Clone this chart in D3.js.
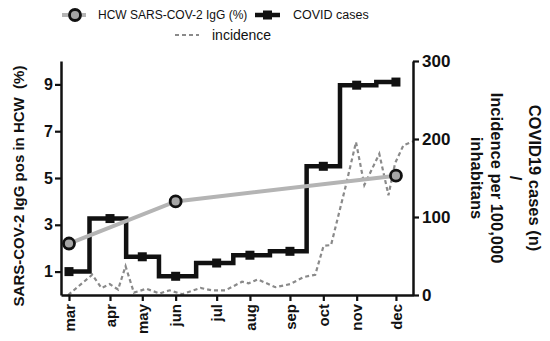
<!DOCTYPE html>
<html>
<head>
<meta charset="utf-8">
<script src="https://cdn.jsdelivr.net/npm/d3@7"></script>
<style>
  html, body { margin: 0; padding: 0; background: #fff; }
  svg { display: block; font-family: "Liberation Sans", Arial, sans-serif; }
</style>
</head>
<body>
<svg id="chart" width="550" height="341"></svg>
<script>
// ---- data ----
const months = ["mar", "apr", "may", "jun", "jul", "aug", "sep", "oct", "nov", "dec"];
// month tick positions along the x axis (in weeks since early March)
const monthPos = [0, 4.93, 8.81, 12.82, 17.75, 21.75, 26.56, 30.57, 34.58, 39.3];
// COVID cases per month (right axis)
const covidCases = [30, 98, 49, 24, 41, 51, 56, 165, 269, 273];
// HCW SARS-COV-2 IgG (%) (left axis)
const hcwMonths = ["mar", "jun", "dec"];
const hcwIgG = [2.2, 4.0, 5.1];
// incidence per 100,000 inhabitants (right axis), weekly
const incWeek = [-0.1, 2.8, 3.9, 4.9, 5.9, 6.8, 7.8, 9.3, 10.9, 12.1, 13.6, 15.8, 17.2, 18.8, 20.8, 21.6, 22.7, 24.8, 26.6, 28.2, 29.6, 30.6, 31.5, 33.2, 34.5, 35.5, 37.3, 38.4, 39.2, 40.2, 41.4];
const incValue = [0, 26, 9, 14, 7, 37, 3, 8, 2, 6, 1, 9, 6, 6, 17, 15, 20, 10, 14, 23, 26, 63, 64, 137, 196, 141, 181, 128, 169, 192, 197];
const leftTicks = [1, 3, 5, 7, 9];
const rightTicks = [0, 100, 200, 300];

// ---- layout ----
const svg = d3.select("#chart");
const x = d3.scaleLinear().domain([-0.96, 41.35]).range([61, 413]);
const yL = d3.scaleLinear().domain([0, 10]).range([295, 61]);
const yR = d3.scaleLinear().domain([0, 300]).range([295, 61]);

// incidence dashed line
svg.append("path")
  .datum(incWeek.map((w, i) => [w, incValue[i]]))
  .attr("fill", "none").attr("stroke", "#8a8a8a").attr("stroke-width", 2.2)
  .attr("stroke-dasharray", "4,3")
  .attr("d", d3.line().x(d => x(d[0])).y(d => yR(d[1])));

// COVID cases step line
const caseData = months.map((m, i) => [monthPos[i], covidCases[i]]);
svg.append("path")
  .datum(caseData)
  .attr("fill", "none").attr("stroke", "#111").attr("stroke-width", 4.5)
  .attr("stroke-linejoin", "miter").attr("stroke-linecap", "square")
  .attr("d", d3.line().curve(d3.curveStep).x(d => x(d[0])).y(d => yR(d[1])));
svg.selectAll("rect.case").data(caseData).enter().append("rect")
  .attr("class", "case")
  .attr("x", d => x(d[0]) - 4.5).attr("y", d => yR(d[1]) - 4.5)
  .attr("width", 9).attr("height", 9).attr("fill", "#111");

// HCW line
const hcwData = hcwMonths.map((m, i) => [monthPos[months.indexOf(m)], hcwIgG[i]]);
svg.append("path")
  .datum(hcwData)
  .attr("fill", "none").attr("stroke", "#b4b4b4").attr("stroke-width", 4)
  .attr("d", d3.line().x(d => x(d[0])).y(d => yL(d[1])));
svg.selectAll("circle.hcw").data(hcwData).enter().append("circle")
  .attr("class", "hcw")
  .attr("cx", d => x(d[0])).attr("cy", d => yL(d[1])).attr("r", 5.5)
  .attr("fill", "#a6a6a6").attr("stroke", "#111").attr("stroke-width", 2.8);

// ---- axes ----
const axL = svg.append("g").attr("transform", "translate(61,0)")
  .call(d3.axisLeft(yL).tickValues(leftTicks).tickSize(6).tickPadding(2).tickSizeOuter(0));
const axR = svg.append("g").attr("transform", "translate(413,0)")
  .call(d3.axisRight(yR).tickValues(rightTicks).tickSize(6).tickPadding(3).tickSizeOuter(0));
const axB = svg.append("g").attr("transform", "translate(0,295)")
  .call(d3.axisBottom(x).tickValues(monthPos).tickFormat((d, i) => months[i]).tickSize(6).tickSizeOuter(0));

[axL, axR, axB].forEach(ax => {
  ax.select(".domain").attr("stroke", "#111").attr("stroke-width", 2.5);
  ax.selectAll(".tick line").attr("stroke", "#111").attr("stroke-width", 2.2);
  ax.selectAll("text").attr("fill", "#111").attr("font-weight", "bold")
    .attr("font-family", "'Liberation Sans', Arial, sans-serif");
});
axL.selectAll("text").attr("font-size", 16);
axR.selectAll("text").attr("font-size", 17);
axB.selectAll("text").attr("font-size", 15)
  .attr("transform", "rotate(-90)")
  .attr("text-anchor", "end").attr("dy", "0.35em").attr("x", -9).attr("y", 0);

// ---- axis titles ----
svg.append("text")
  .attr("transform", "translate(18,186) rotate(-90)")
  .attr("text-anchor", "middle").attr("dominant-baseline", "central")
  .attr("font-size", 15).attr("font-weight", "bold").attr("fill", "#111")
  .style("white-space", "pre")
  .text("SARS-COV-2 IgG pos in HCW  (%)");

const rTitle = ["COVID19 cases (n)", "/", "Incidence per 100,000", "inhabitans"];
const rTitleX = [535, 516, 497, 477];
rTitle.forEach((t, i) => {
  svg.append("text")
    .attr("transform", `translate(${rTitleX[i]},178) rotate(90)`)
    .attr("text-anchor", "middle").attr("dominant-baseline", "central")
    .attr("font-size", 16.5).attr("font-weight", "bold").attr("fill", "#111")
    .text(t);
});

// ---- legend ----
const lg = svg.append("g");
lg.append("line").attr("x1", 62).attr("x2", 86).attr("y1", 15).attr("y2", 15)
  .attr("stroke", "#b4b4b4").attr("stroke-width", 4);
lg.append("circle").attr("cx", 75).attr("cy", 15).attr("r", 5.5)
  .attr("fill", "#a6a6a6").attr("stroke", "#111").attr("stroke-width", 2.8);
lg.append("text").attr("x", 98).attr("y", 15).attr("dominant-baseline", "central")
  .attr("font-size", 12).attr("fill", "#111").text("HCW SARS-COV-2 IgG (%)");
lg.append("line").attr("x1", 255).attr("x2", 280).attr("y1", 15).attr("y2", 15)
  .attr("stroke", "#111").attr("stroke-width", 4.5);
lg.append("rect").attr("x", 263).attr("y", 10.5).attr("width", 9).attr("height", 9).attr("fill", "#111");
lg.append("text").attr("x", 293).attr("y", 15).attr("dominant-baseline", "central")
  .attr("font-size", 12.5).attr("fill", "#111").text("COVID cases");
lg.append("line").attr("x1", 175).attr("x2", 199).attr("y1", 35).attr("y2", 35)
  .attr("stroke", "#8a8a8a").attr("stroke-width", 2.2).attr("stroke-dasharray", "4,3");
lg.append("text").attr("x", 212).attr("y", 35).attr("dominant-baseline", "central")
  .attr("font-size", 14).attr("fill", "#111").text("incidence");
</script>
</body>
</html>
